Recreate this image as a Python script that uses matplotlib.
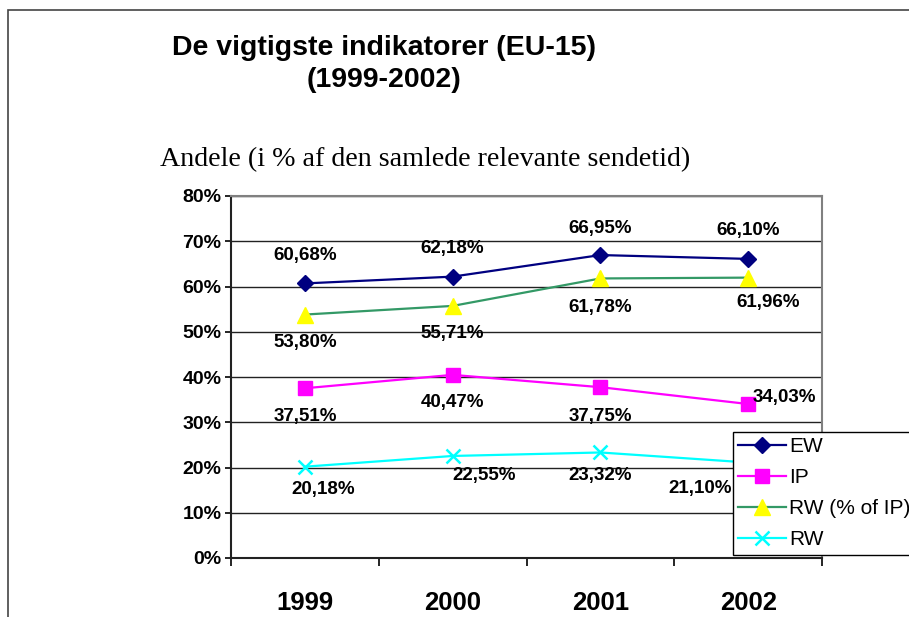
import matplotlib
matplotlib.use('Agg')
import matplotlib.pyplot as plt
from matplotlib.patches import Rectangle
from matplotlib.ticker import FixedLocator, FuncFormatter

# data (andele i %)
years = ['1999', '2000', '2001', '2002']
ew = [60.68, 62.18, 66.95, 66.10]
ip = [37.51, 40.47, 37.75, 34.03]
rw_pct_ip = [53.80, 55.71, 61.78, 61.96]
rw = [20.18, 22.55, 23.32, 21.10]

# label offsets in pixels (layout only)
off_ew = [(0, 28), (0, 28), (0, 27), (0, 28)]
off_ip = [(0, -28), (0, -28), (0, -29), (36, 7)]
off_rwp = [(0, -28), (0, -28), (0, -29), (20, -25)]
off_rw = [(18, -23), (31, -20), (0, -23), (-48, -26)]

plt.rcParams['font.family'] = ['Liberation Sans', 'DejaVu Sans']

fig = plt.figure(figsize=(9.09, 6.17), dpi=100)

# outer chart frame (left + top visible)
fig.patches.append(Rectangle((8/909, -0.1), 1.2, 1 - 10/617 + 0.1,
                             transform=fig.transFigure, fill=False,
                             edgecolor='#444444', linewidth=1.2))

ax = fig.add_axes([231/909, 1 - 558/617, 591/909, 362/617])

x = [1, 2, 3, 4]
ax.plot(x, ew, color='#000080', lw=1.6, marker='D', ms=8,
        mfc='#000080', mec='#000080', label='EW')
ax.plot(x, ip, color='#FF00FF', lw=1.6, marker='s', ms=10,
        mfc='#FF00FF', mec='#FF00FF', label='IP')
ax.plot(x, rw_pct_ip, color='#339966', lw=1.6, marker='^', ms=11,
        mfc='#FFFF00', mec='#FFFF00', label='RW (% of IP)')
ax.plot(x, rw, color='#00FFFF', lw=1.6, marker='x', ms=10, mew=1.8,
        label='RW')


def lab(v):
    return f'{v:.2f}%'.replace('.', ',')


for vals, offs in [(ew, off_ew), (ip, off_ip), (rw_pct_ip, off_rwp), (rw, off_rw)]:
    for xi, v, o in zip(x, vals, offs):
        ax.annotate(lab(v), (xi, v), xytext=o, textcoords='offset pixels',
                    ha='center', va='center', fontsize=13.5, fontweight='bold')

ax.set_xlim(0.5, 4.5)
ax.set_ylim(0, 80)

ax.yaxis.set_major_locator(FixedLocator(range(0, 81, 10)))
ax.yaxis.set_major_formatter(FuncFormatter(lambda v, p: f'{int(v)}%'))
ax.grid(axis='y', color='#222222', lw=1.0)
ax.set_axisbelow(True)

ax.set_xticks(x)
ax.set_xticklabels(years, fontsize=18.5, fontweight='bold')
ax.xaxis.set_minor_locator(FixedLocator([0.5, 1.5, 2.5, 3.5, 4.5]))
ax.tick_params(axis='x', which='major', length=0, pad=24)
ax.tick_params(axis='x', which='minor', length=6, width=1.2, direction='out')
ax.tick_params(axis='y', length=4.5, width=1.2, pad=2.5, labelsize=14)
for t in ax.get_yticklabels():
    t.set_fontweight('bold')

for s in ['top', 'right']:
    ax.spines[s].set_color('#808080')
    ax.spines[s].set_linewidth(1.5)
for s in ['left', 'bottom']:
    ax.spines[s].set_color('#222222')
    ax.spines[s].set_linewidth(1.5)

fig.text(384/909, 1 - 48/617, 'De vigtigste indikatorer (EU-15)', ha='center',
         va='center', fontsize=20.5, fontweight='bold')
fig.text(384/909, 1 - 80/617, '(1999-2002)', ha='center', va='center',
         fontsize=20.5, fontweight='bold')
fig.text(425/909, 1 - 160/617, 'Andele (i % af den samlede relevante sendetid)',
         ha='center', va='center', fontsize=20.2,
         family=['Liberation Serif', 'DejaVu Serif'])

leg = fig.legend(loc='upper left', bbox_to_anchor=(733/909, 1 - 432/617),
                 fontsize=15, frameon=True, fancybox=False, framealpha=1,
                 edgecolor='black', handlelength=2.3, handletextpad=0.15,
                 labelspacing=0.58, borderpad=0.25, borderaxespad=0)
leg.get_frame().set_linewidth(1.0)

fig.savefig('out.png', dpi=100)
